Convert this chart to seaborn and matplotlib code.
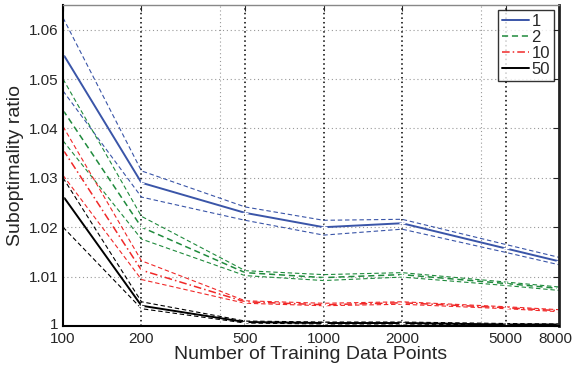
import numpy as np
import pandas as pd
import seaborn as sns
import matplotlib
matplotlib.use("Agg")
import matplotlib.pyplot as plt
import matplotlib.transforms as mtransforms

# Datos
n_points = [100, 200, 500, 1000, 2000, 5000, 8000]

blue_main = [1.0551, 1.0290, 1.0229, 1.0200, 1.0208, 1.0157, 1.0131]
blue_up = [1.0624, 1.0314, 1.0241, 1.0214, 1.0216, 1.0165, 1.0139]
blue_low = [1.0476, 1.0261, 1.0214, 1.0184, 1.0196, 1.0149, 1.0124]

green_main = [1.0437, 1.0200, 1.0108, 1.0098, 1.0104, 1.0086, 1.0076]
green_up = [1.0500, 1.0222, 1.0112, 1.0104, 1.0108, 1.0089, 1.0079]
green_low = [1.0375, 1.0176, 1.0102, 1.0092, 1.0099, 1.0082, 1.0072]

red_main = [1.0357, 1.0113, 1.0049, 1.0043, 1.0047, 1.0037, 1.0031]
red_up = [1.0404, 1.0132, 1.0051, 1.0046, 1.0049, 1.0039, 1.0033]
red_low = [1.0305, 1.0094, 1.0046, 1.0041, 1.0044, 1.0035, 1.0029]

black_main = [1.0263, 1.0041, 1.0008, 1.0006, 1.0006, 1.0003, 1.0003]
black_up = [1.0300, 1.0049, 1.0010, 1.0008, 1.0008, 1.0005, 1.0004]
black_low = [1.0200, 1.0035, 1.0006, 1.0004, 1.0004, 1.0002, 1.0002]

series_labels = ["1", "2", "10", "50"]
x_ticks = [100, 200, 500, 1000, 2000, 5000, 8000]
y_ticks = [1, 1.01, 1.02, 1.03, 1.04, 1.05, 1.06]
y_tick_labels = ["1", "1.01", "1.02", "1.03", "1.04", "1.05", "1.06"]

sns.set_style("white")
plt.rcParams["font.family"] = ["Liberation Sans", "DejaVu Sans"]
plt.rcParams["xtick.direction"] = "in"
plt.rcParams["ytick.direction"] = "in"

colores = ["#3a55a8", "#1f8a3c", "#f02828", "#000000"]
estilos = ["-", (0, (4, 2.5)), (0, (5, 2, 1, 2)), "-"]
grosores = [1.4, 1.1, 1.1, 1.4]
grupos = [
    (blue_main, blue_up, blue_low),
    (green_main, green_up, green_low),
    (red_main, red_up, red_low),
    (black_main, black_up, black_low),
]

fig = plt.figure(figsize=(5.74, 3.72), dpi=100)
ax = fig.add_axes([0.1098, 0.1237, 0.864, 0.863])

# Rejilla estilo MATLAB
for yv in y_ticks[1:]:
    ax.axhline(yv, color="#999999", lw=0.8, ls=(0, (1, 2.5)), zorder=0)
for xv in [400, 4000]:
    ax.axvline(xv, color="#999999", lw=0.8, ls=(0, (1, 2.5)), zorder=0)
for xv in x_ticks[1:-1]:
    ax.axvline(xv, color="black", lw=1.1, ls=(0, (1, 2)), zorder=0)

for (main, up, low), col, est, lw, lab in zip(grupos, colores, estilos, grosores, series_labels):
    for banda in (up, low):
        sns.lineplot(x=n_points, y=banda, ax=ax, color=col, lw=0.8,
                     linestyle=(0, (4, 2.5)), legend=False)
    sns.lineplot(x=n_points, y=main, ax=ax, color=col, lw=lw,
                 linestyle=est, marker="+", markersize=5, markeredgewidth=1,
                 label=lab)

ax.set_xscale("log")
ax.set_xlim(100, 8000)
ax.set_ylim(1, 1.065)
ax.set_xticks(x_ticks)
ax.set_xticklabels([str(t) for t in x_ticks])
ax.xaxis.set_minor_locator(matplotlib.ticker.NullLocator())
ax.set_yticks(y_ticks)
ax.set_yticklabels(y_tick_labels)
ax.tick_params(axis="both", labelsize=11, length=4, width=0.8,
               top=True, right=True)
ax.tick_params(axis="x", pad=4)
ax.tick_params(axis="y", pad=3)

# correr un poco la ultima etiqueta para que quepa
ultima = ax.get_xticklabels()[-1]
ultima.set_transform(ultima.get_transform() +
                     mtransforms.ScaledTranslation(-4 / 100, 0, fig.dpi_scale_trans))
# y subir el "1" para que no pise al "100"
uno = ax.get_yticklabels()[0]
uno.set_transform(uno.get_transform() +
                  mtransforms.ScaledTranslation(0, 2 / 100, fig.dpi_scale_trans))

for lado in ["left", "bottom"]:
    ax.spines[lado].set_linewidth(1.5)
    ax.spines[lado].set_color("black")
ax.spines["top"].set_color("#888888")
ax.spines["top"].set_linewidth(1.0)
ax.spines["right"].set_color("#222222")
ax.spines["right"].set_linewidth(2.0)

ax.set_xlabel("Number of Training Data Points", fontsize=14, labelpad=0)
ax.set_ylabel("Suboptimality ratio", fontsize=14, labelpad=4)

leg = ax.legend(loc="upper right", fontsize=12, frameon=True, fancybox=False,
                handlelength=1.6, handletextpad=0.15, borderpad=0.25,
                labelspacing=0.05, borderaxespad=0.3)
leg.get_frame().set_edgecolor("black")
leg.get_frame().set_linewidth(1.0)
for h in leg.legend_handles:
    h.set_marker("")

fig.savefig("out.png", dpi=100)
